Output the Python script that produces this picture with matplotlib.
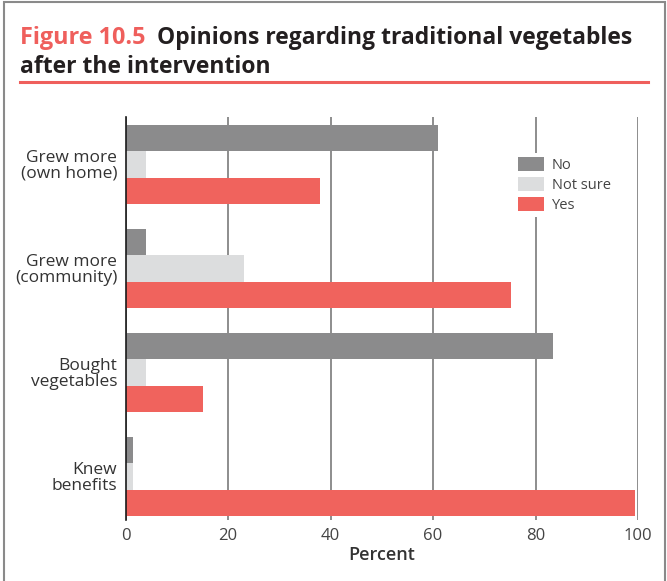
import matplotlib
matplotlib.use("Agg")
import matplotlib.pyplot as plt
import numpy as np
from matplotlib.patches import Rectangle, Patch
from matplotlib.lines import Line2D

categories = ["Grew more\n(own home)", "Grew more\n(community)", "Bought\nvegetables", "Knew\nbenefits"]
series_names = ["No", "Not sure", "Yes"]
no_vals = [61, 4, 83.5, 1.5]
notsure_vals = [4, 23.1, 4, 1.5]
yes_vals = [38, 75.3, 15.1, 99.4]
xticks = [0, 20, 40, 60, 80, 100]

colors = ["#8b8b8c", "#dcddde", "#f0635d"]
text_col = "#333333"
tick_col = "#444444"

plt.rcParams['font.family'] = ['Open Sans', 'DejaVu Sans']

fig = plt.figure(figsize=(6.67, 5.81), dpi=100)

# frame
fig.add_artist(Rectangle((4/667, -0.05), (665-4)/667, 1.05 - 2/581, transform=fig.transFigure,
                         fill=False, edgecolor="#8a8a8a", linewidth=1.5))

# title
fig.text(20/667, 1 - 44/581, "Figure 10.5", color="#ef5f5c", fontsize=16.8, fontweight="bold",
         ha="left", va="baseline")
fig.text(157/667, 1 - 44/581, "Opinions regarding traditional vegetables", color="#231f20",
         fontsize=16.5, fontweight="bold", ha="left", va="baseline")
fig.text(20/667, 1 - 73/581, "after the intervention", color="#231f20",
         fontsize=16.5, fontweight="bold", ha="left", va="baseline")
fig.add_artist(Line2D([20/667, 648/667], [1 - 82/581, 1 - 82/581], transform=fig.transFigure,
                      color="#ef5f5c", linewidth=2.2))

ax = fig.add_axes([125.5/667, 1 - 520/581, 512.5/667, (520 - 117)/581])
h = 0.255
y = np.arange(len(categories))
vals = [no_vals, notsure_vals, yes_vals]
for i, (v, c, n) in enumerate(zip(vals, colors, series_names)):
    ax.barh(y + (i - 1) * h, v, height=h, color=c, label=n, zorder=3)

ax.set_xlim(0, 100)
ax.set_ylim(3.42, -0.455)
ax.set_xticks(xticks)
ax.set_yticks(y)
ax.set_yticklabels(categories, color=text_col, ha="right", linespacing=0.95)
ax.tick_params(axis="both", length=0, colors=tick_col, labelsize=12)
ax.tick_params(axis="y", pad=6, labelcolor=text_col, labelsize=12.5)
ax.tick_params(axis="x", pad=6)
ax.grid(axis="x", color="#7a7a7a", linewidth=1.2, zorder=0)
for s in ["top", "right", "bottom"]:
    ax.spines[s].set_visible(False)
ax.spines["left"].set_color("#1a1a1a")
ax.spines["left"].set_linewidth(1.2)
ax.spines["left"].set_zorder(4)
ax.set_xlabel("Percent", fontsize=13, color=text_col, fontweight="semibold", labelpad=1)

handles = [Patch(facecolor=c, edgecolor="none") for c in colors]
leg = ax.legend(handles, series_names, loc="upper left", bbox_to_anchor=(389/512.5, (520 - 153)/403),
                frameon=True, framealpha=1, edgecolor="none", facecolor="white",
                fontsize=10.5, handlelength=1.8, handleheight=1.1, handletextpad=0.5,
                labelspacing=0.3, borderpad=0.25, borderaxespad=0)
for t in leg.get_texts():
    t.set_color(tick_col)
leg.set_zorder(5)

fig.savefig("out.png", dpi=100)
